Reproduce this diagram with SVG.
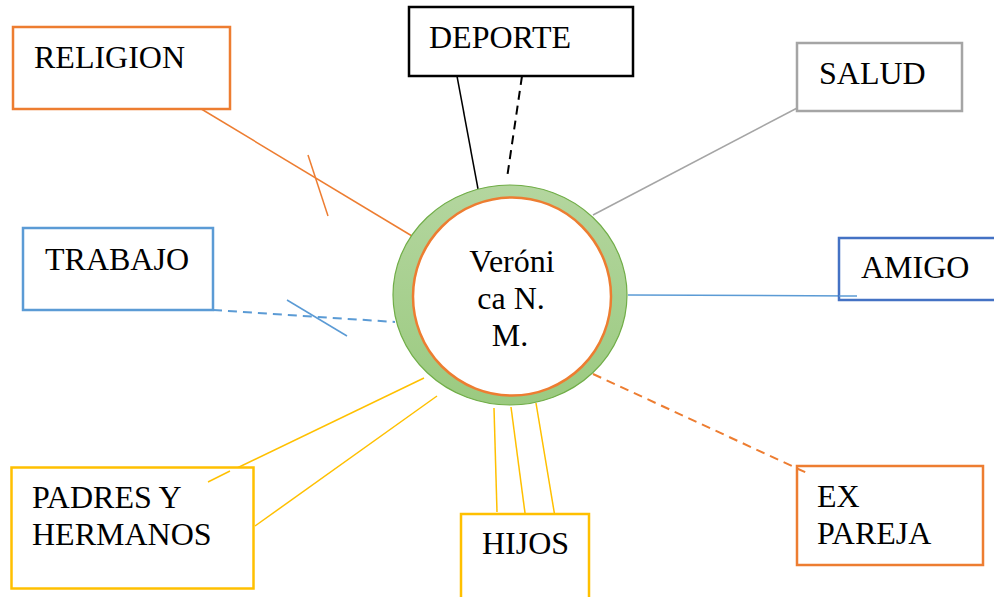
<svg xmlns="http://www.w3.org/2000/svg" width="994" height="597" viewBox="0 0 994 597">
  <defs>
    <linearGradient id="ringFill" x1="0" y1="0" x2="0" y2="1">
      <stop offset="0" stop-color="#b4d69f"/>
      <stop offset="1" stop-color="#9bca80"/>
    </linearGradient>
  </defs>
  <style>
    .lbl { font-family: "Liberation Serif", "Times New Roman", serif; font-size: 32px; fill: #000; }
    .box { fill: #fff; stroke-width: 2.5; }
    .orange { stroke: #ed7d31; }
    .blue { stroke: #5b9bd5; }
    .dblue { stroke: #4472c4; }
    .gray { stroke: #a5a5a5; }
    .yellow { stroke: #ffc000; }
    .black { stroke: #000; }
    .ln { fill: none; stroke-width: 1.5; }
    .dash { fill: none; stroke-width: 2; stroke-dasharray: 9 6; }
  </style>

  <!-- links between the centre and the surrounding boxes -->
  <g id="connectors">
    <!-- religion: line with a cross-out tick -->
    <line class="ln orange" x1="198" y1="107" x2="412" y2="236"/>
    <line class="ln orange" x1="308" y1="155" x2="328" y2="216"/>
    <!-- trabajo: dashed with a tick -->
    <line class="dash blue" x1="213" y1="310" x2="395" y2="322"/>
    <line class="ln blue" x1="287" y1="300" x2="347" y2="336"/>
    <!-- deporte: one solid, one dashed -->
    <line class="ln black" x1="457" y1="76" x2="478" y2="189"/>
    <line class="dash black" x1="522" y1="76" x2="507" y2="178"/>
    <!-- salud -->
    <line class="ln gray" x1="801" y1="106" x2="593" y2="215"/>
    <!-- amigo -->
    <line class="ln blue" x1="628" y1="295" x2="857" y2="296"/>
    <!-- ex pareja -->
    <line class="dash orange" x1="593" y1="374" x2="807" y2="473"/>
    <!-- padres y hermanos -->
    <line class="ln yellow" x1="424" y1="378" x2="208" y2="482"/>
    <line class="ln yellow" x1="437" y1="396" x2="255" y2="526"/>
    <!-- hijos -->
    <line class="ln yellow" x1="494" y1="408" x2="497" y2="512"/>
    <line class="ln yellow" x1="511" y1="407" x2="525" y2="513"/>
    <line class="ln yellow" x1="536" y1="403" x2="555" y2="517"/>
  </g>

  <g id="centro">
    <ellipse cx="510" cy="295" rx="117" ry="110" fill="url(#ringFill)" stroke="#70ad47" stroke-width="1.2"/>
    <circle cx="512" cy="296.5" r="99" fill="#fff" stroke="#ed7d31" stroke-width="2.5"/>
    <text class="lbl" text-anchor="middle" x="512" y="272">Veróni</text>
    <text class="lbl" text-anchor="middle" x="511" y="309">ca N.</text>
    <text class="lbl" text-anchor="middle" x="510" y="346">M.</text>
  </g>

  <g id="religion">
    <rect class="box orange" x="13" y="27" width="217" height="82"/>
    <text class="lbl" x="34" y="68">RELIGION</text>
  </g>

  <g id="deporte">
    <rect class="box black" x="409" y="7" width="224" height="69" stroke-width="1.5"/>
    <text class="lbl" x="429" y="48">DEPORTE</text>
  </g>

  <g id="salud">
    <rect class="box gray" x="797" y="43" width="165" height="68"/>
    <text class="lbl" x="819" y="84">SALUD</text>
  </g>

  <g id="trabajo">
    <rect class="box blue" x="23" y="228" width="190" height="82"/>
    <text class="lbl" x="45" y="270">TRABAJO</text>
  </g>

  <g id="amigo">
    <rect class="box dblue" x="839" y="238" width="170" height="62"/>
    <text class="lbl" x="861" y="278">AMIGO</text>
  </g>

  <g id="ex-pareja">
    <rect class="box orange" x="797" y="466" width="186" height="99"/>
    <text class="lbl" x="817" y="507">EX</text>
    <text class="lbl" x="817" y="544">PAREJA</text>
  </g>

  <g id="padres-hermanos">
    <rect class="box yellow" x="11.5" y="467.5" width="242" height="121" stroke-width="3"/>
    <text class="lbl" x="32" y="508">PADRES Y</text>
    <text class="lbl" x="32" y="545">HERMANOS</text>
  </g>

  <g id="hijos">
    <rect class="box yellow" x="461" y="514" width="128" height="86"/>
    <text class="lbl" x="482" y="554">HIJOS</text>
  </g>

  <!-- connector ends that run over the box edges -->
  <g id="connector-overlaps">
    <line class="ln yellow" x1="230" y1="471" x2="208" y2="482"/>
    <line class="ln blue" x1="839" y1="296" x2="857" y2="296"/>
    <line class="dash orange" x1="797" y1="468.5" x2="807" y2="473" stroke-dasharray="10 0"/>
  </g>
</svg>
